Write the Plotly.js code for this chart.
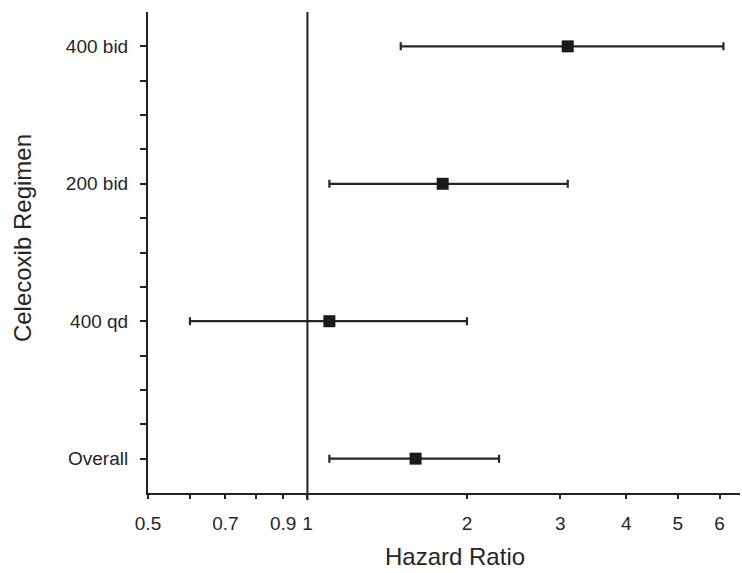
<!DOCTYPE html>
<html>
<head>
<meta charset="utf-8">
<script src="https://cdn.plot.ly/plotly-3.0.1.min.js"></script>
<style>html,body{margin:0;padding:0;background:#fff;overflow:hidden;}#chart{width:742px;height:573px;}</style>
</head>
<body>
<div id="chart"></div>
<script>
// Data
const regimens = ["Overall", "400 qd", "200 bid", "400 bid"];
const hazardRatio = [1.6, 1.1, 1.8, 3.1];
const ciLower = [1.1, 0.6, 1.1, 1.5];
const ciUpper = [2.3, 2.0, 3.1, 6.1];
const xTickVals = [0.5, 0.6, 0.7, 0.8, 0.9, 1, 2, 3, 4, 5, 6];
const xTickText = ["0.5", "", "0.7", "", "0.9", "1", "2", "3", "4", "5", "6"];
const xTitle = "Hazard Ratio";
const yTitle = "Celecoxib Regimen";

const yPos = regimens.map((_, i) => i);
const yTickVals = [];
const yTickText = [];
for (let k = 0; k <= (regimens.length - 1) * 4; k++) {
  const v = k / 4;
  yTickVals.push(v);
  yTickText.push(k % 4 === 0 ? regimens[k / 4] : "");
}

const trace = {
  type: "scatter",
  mode: "markers",
  x: hazardRatio,
  y: yPos,
  marker: {symbol: "square", size: 12, color: "#1a1a1a"},
  error_x: {
    type: "data",
    symmetric: false,
    array: hazardRatio.map((v, i) => ciUpper[i] - v),
    arrayminus: hazardRatio.map((v, i) => v - ciLower[i]),
    color: "#262626",
    thickness: 2.2,
    width: 4
  },
  hoverinfo: "skip",
  showlegend: false
};

const textColor = "#262626";
const layout = {
  width: 742,
  height: 573,
  margin: {l: 148, r: 2, t: 12, b: 80},
  paper_bgcolor: "#fff",
  plot_bgcolor: "#fff",
  font: {family: "Liberation Sans, Arial, sans-serif", color: textColor, size: 19},
  xaxis: {
    type: "log",
    range: [Math.log10(0.5), 0.8166],
    tickvals: xTickVals,
    ticktext: xTickText,
    ticks: "outside",
    ticklen: 4,
    tickwidth: 2,
    tickcolor: "#222",
    ticklabelstandoff: 8,
    showline: true,
    linecolor: "#222",
    linewidth: 2,
    showgrid: false,
    zeroline: false,
    tickfont: {size: 19, color: textColor}
  },
  yaxis: {
    range: [-0.25, 3.25],
    tickvals: yTickVals,
    ticktext: yTickText,
    ticks: "outside",
    ticklen: 6,
    tickwidth: 2,
    tickcolor: "#222",
    ticklabelstandoff: 8,
    showline: true,
    linecolor: "#222",
    linewidth: 2,
    showgrid: false,
    zeroline: false,
    tickfont: {size: 19, color: textColor}
  },
  annotations: [
    {text: xTitle, xref: "paper", yref: "paper", x: 0.5186, y: -0.131,
     xanchor: "center", yanchor: "middle", showarrow: false,
     font: {size: 24, color: textColor}},
    {text: yTitle, xref: "paper", yref: "paper", x: -0.2128, y: 0.53,
     xanchor: "center", yanchor: "middle", textangle: -90, showarrow: false,
     font: {size: 24, color: textColor}}
  ],
  shapes: [{
    type: "line",
    xref: "x", yref: "paper",
    x0: 1, x1: 1, y0: -0.015, y1: 1,
    line: {color: "#222", width: 2}
  }]
};

Plotly.newPlot("chart", [trace], layout, {displayModeBar: false, staticPlot: true});
</script>
</body>
</html>
